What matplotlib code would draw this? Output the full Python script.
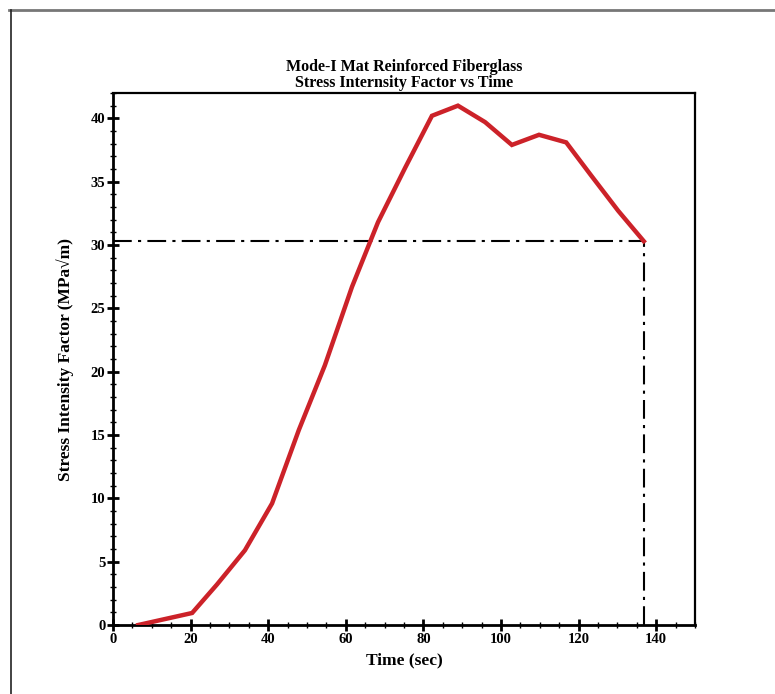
import matplotlib.pyplot as plt
from matplotlib.lines import Line2D
from matplotlib.ticker import MultipleLocator

# time (s) and mode-I stress intensity factor (MPa sqrt(m))
time_sec = [6.5, 20.4, 26.8, 34.0, 41.0, 47.9, 54.6, 61.6, 68.3, 75.3,
            82.2, 88.9, 95.9, 102.8, 109.8, 116.8, 123.2, 130.2, 136.8]
k_value = [0.0, 0.95, 3.2, 5.9, 9.6, 15.4, 20.5, 26.7, 31.8, 36.1,
           40.2, 41.0, 39.7, 37.9, 38.7, 38.1, 35.5, 32.7, 30.3]

plt.rcParams['font.family'] = ['Liberation Serif', 'DejaVu Serif']
plt.rcParams['font.weight'] = 'bold'

fig = plt.figure(figsize=(7.75, 6.94), dpi=100)
ax = fig.add_axes([0.1458, 0.0994, 0.751, 0.7666])

ax.plot(time_sec, k_value, color='#cc2229', lw=3.2, solid_joinstyle='miter', zorder=3)

# guide lines to the final point
t_end, k_end = time_sec[-1], k_value[-1]
ax.plot([0, t_end], [k_end, k_end], color='black', lw=1.5, ls=(0, (9, 3, 1.5, 3)), zorder=2)
ax.plot([t_end, t_end], [0, k_end], color='black', lw=1.5, ls=(0, (9, 3, 1.5, 3)), zorder=2)

ax.set_xlim(0, 150)
ax.set_ylim(0, 42)
ax.xaxis.set_major_locator(MultipleLocator(20))
ax.xaxis.set_minor_locator(MultipleLocator(5))
ax.yaxis.set_major_locator(MultipleLocator(5))
ax.yaxis.set_minor_locator(MultipleLocator(1))
ax.tick_params(which='major', direction='inout', length=9, width=2, labelsize=10.5, pad=1)
ax.tick_params(which='minor', direction='inout', length=5, width=1)
for lbl in ax.get_xticklabels() + ax.get_yticklabels():
    lbl.set_fontweight('bold')

for side in ['left', 'bottom']:
    ax.spines[side].set_linewidth(2)
for side in ['top', 'right']:
    ax.spines[side].set_linewidth(1.6)

ax.set_xlabel('Time (sec)', fontsize=12.5, fontweight='bold', labelpad=5)
ax.set_ylabel('Stress Intensity Factor (MPa\u221am)', fontsize=12.5, fontweight='bold', labelpad=12)
ax.set_title('Mode-I Mat Reinforced Fiberglass\nStress Internsity Factor vs Time',
             fontsize=11.5, fontweight='bold', linespacing=1.05, pad=4)

# page frame
fig.add_artist(Line2D([0.011, 1.0], [0.9856, 0.9856], color='#777777', lw=2))
fig.add_artist(Line2D([0.0142, 0.0142], [0.0, 0.9856], color='#222222', lw=1.2))

fig.savefig('out.png', dpi=100)
